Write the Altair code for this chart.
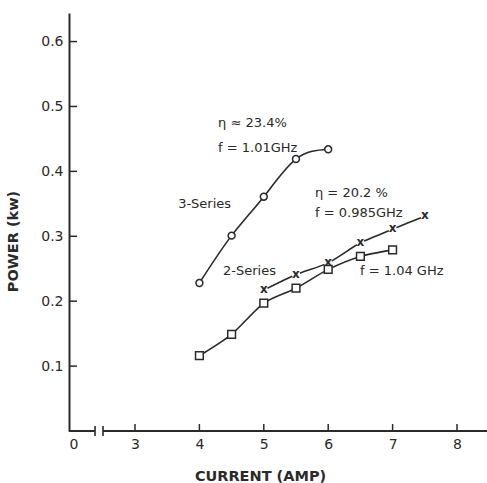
import altair as alt
import pandas as pd

# Measured output power versus drive current
three_x = [4.0, 4.5, 5.0, 5.5, 6.0]
three_y = [0.228, 0.301, 0.361, 0.419, 0.434]

two_x_cross = [5.0, 5.5, 6.0, 6.5, 7.0, 7.5]
two_y_cross = [0.217, 0.241, 0.259, 0.290, 0.311, 0.331]

two_x_sq = [4.0, 4.5, 5.0, 5.5, 6.0, 6.5, 7.0]
two_y_sq = [0.116, 0.149, 0.197, 0.220, 0.249, 0.269, 0.279]

x_ticks = [3, 4, 5, 6, 7, 8]
y_ticks = [0.1, 0.2, 0.3, 0.4, 0.5, 0.6]

# The current axis is broken between 0 and 3 A
X_ORIGIN = 1.975
X_MAX = 8.466
Y_MAX = 0.644
BREAK_A, BREAK_B = 2.379, 2.503

note_text = ["η ≈ 23.4%", "f = 1.01GHz", "3-Series", "η = 20.2 %",
             "f = 0.985GHz", "2-Series", "f = 1.04 GHz"]
note_x = [4.29, 4.29, 3.67, 5.795, 5.795, 4.366, 6.494]
note_y = [0.475, 0.436, 0.350, 0.367, 0.336, 0.2465, 0.2465]

W, H = 418, 418
INK = "#2a2a2a"
FONT = "DejaVu Sans"

three = pd.DataFrame({"current": three_x, "power": three_y})
cross = pd.DataFrame({"current": two_x_cross, "power": two_y_cross, "m": "x"})
square = pd.DataFrame({"current": two_x_sq, "power": two_y_sq})
notes = pd.DataFrame({"t": note_text, "current": note_x, "power": note_y})

xs = alt.Scale(domain=[X_ORIGIN, X_MAX], nice=False, zero=False)
ys = alt.Scale(domain=[0, Y_MAX], nice=False)

x_enc = alt.X(
    "current:Q", scale=xs,
    axis=alt.Axis(
        values=[X_ORIGIN] + x_ticks, domain=False, ticks=False, grid=False,
        labelExpr="datum.value < 2.5 ? '0' : format(datum.value, 'd')",
        labelFont=FONT, labelFontSize=14, labelColor=INK, labelPadding=6,
        title="CURRENT (AMP)", titleFont=FONT, titleFontSize=14.5,
        titleFontWeight="bold", titleColor=INK, titleX=191, titleY=45,
        titleBaseline="middle",
    ),
)
y_enc = alt.Y(
    "power:Q", scale=ys,
    axis=alt.Axis(
        values=y_ticks, format=".1f", ticks=False, grid=False,
        domain=True, domainColor=INK, domainWidth=2,
        labelFont=FONT, labelFontSize=14, labelColor=INK, labelPadding=6,
        title="POWER (kw)", titleFont=FONT, titleFontSize=14.5,
        titleFontWeight="bold", titleColor=INK, titleX=-56, titleY=228,
        titleBaseline="middle",
    ),
)

line3 = alt.Chart(three).mark_line(color=INK, strokeWidth=1.6, interpolate="natural").encode(x=x_enc, y=y_enc)
pts3 = alt.Chart(three).mark_point(shape="circle", size=48, filled=True, fill="white",
                                   stroke=INK, strokeWidth=1.5, opacity=1).encode(x="current:Q", y="power:Q")

line_c = alt.Chart(cross).mark_line(color=INK, strokeWidth=1.6, interpolate="cardinal", tension=0.3).encode(
    x="current:Q", y="power:Q")
gap_c = alt.Chart(cross).mark_point(shape="circle", size=70, filled=True, color="white", opacity=1).encode(
    x="current:Q", y="power:Q")
pts_c = alt.Chart(cross).mark_text(font=FONT, fontSize=12, fontWeight="bold", color=INK, dy=-1).encode(
    x="current:Q", y="power:Q", text="m:N")

line_s = alt.Chart(square).mark_line(color=INK, strokeWidth=1.6, interpolate="cardinal", tension=0.3).encode(
    x="current:Q", y="power:Q")
pts_s = alt.Chart(square).mark_point(shape="square", size=60, filled=True, fill="white",
                                     stroke=INK, strokeWidth=1.5, opacity=1).encode(x="current:Q", y="power:Q")

text = alt.Chart(notes).mark_text(font=FONT, fontSize=13, color=INK, align="left",
                                  baseline="middle").encode(x="current:Q", y="power:Q", text="t:N")

# Hand-drawn current axis with its break marks
seg = pd.DataFrame({"a": [X_ORIGIN, BREAK_B], "b": [BREAK_A, X_MAX]})
x_line = alt.Chart(seg).mark_rule(color=INK, strokeWidth=2).encode(
    x=alt.X("a:Q", scale=xs), x2="b:Q", y=alt.value(H))
brk = pd.DataFrame({"a": [BREAK_A, BREAK_B]})
brk_marks = alt.Chart(brk).mark_rule(color=INK, strokeWidth=1.6).encode(
    x=alt.X("a:Q", scale=xs), y=alt.value(H - 5), y2=alt.value(H + 5))

xt = pd.DataFrame({"v": x_ticks})
x_tick_marks = alt.Chart(xt).mark_rule(color=INK, strokeWidth=1.5).encode(
    x=alt.X("v:Q", scale=xs), y=alt.value(H), y2=alt.value(H - 7))
yt = pd.DataFrame({"v": y_ticks})
y_tick_marks = alt.Chart(yt).mark_rule(color=INK, strokeWidth=1.5).encode(
    y=alt.Y("v:Q", scale=ys), x=alt.value(0), x2=alt.value(8))

chart = alt.layer(
    line3, line_c, line_s, x_line, brk_marks, x_tick_marks, y_tick_marks,
    pts3, gap_c, pts_c, pts_s, text,
).properties(
    width=W, height=H,
    autosize=alt.AutoSizeParams(type="none"),
    padding={"left": 69, "top": 13, "right": 0, "bottom": 52},
    background="white",
).configure_view(stroke=None)

chart.save("out.html", embed_options={"renderer": "svg", "actions": False})
